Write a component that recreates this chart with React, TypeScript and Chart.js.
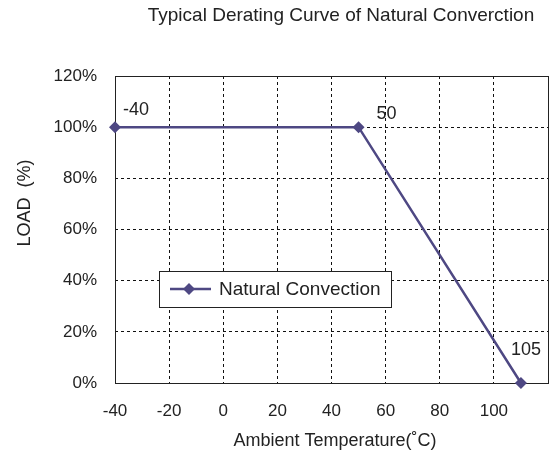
import React, { useEffect, useRef } from "react";
import { Chart, registerables } from "chart.js";

Chart.register(...registerables);

const temps = [-40, 50, 110];
const loads = [100, 100, 0];
const pointLabels = ["-40", "50", "105"];
const xTicks = [-40, -20, 0, 20, 40, 60, 80, 100, 120];
const yTicks = [0, 20, 40, 60, 80, 100, 120];
const seriesName = "Natural Convection";
const titleText = "Typical Derating Curve of Natural Converction";
const xTitle = "Ambient Temperature(\u02DAC)";
const yTitle = "LOAD  (%)";

const LINE = "#4E4883";
const FONT = "Liberation Sans, Arial, sans-serif";

function drawDiamond(ctx: CanvasRenderingContext2D, x: number, y: number, r: number) {
  ctx.beginPath();
  ctx.moveTo(x, y - r);
  ctx.lineTo(x + r, y);
  ctx.lineTo(x, y + r);
  ctx.lineTo(x - r, y);
  ctx.closePath();
  ctx.fill();
}

const overlay = {
  id: "overlay",
  beforeDatasetsDraw(chart: any) {
    const { ctx, chartArea: a } = chart;
    ctx.save();
    ctx.strokeStyle = "#222";
    ctx.lineWidth = 1;
    ctx.setLineDash([]);
    ctx.strokeRect(Math.round(a.left) + 0.5, Math.round(a.top) + 0.5, Math.round(a.right - a.left), Math.round(a.bottom - a.top));
    ctx.restore();
  },
  afterDatasetsDraw(chart: any) {
    const { ctx } = chart;
    const meta = chart.getDatasetMeta(0);
    const offs = [
      [21, -17],
      [28, -13],
      [5, -33],
    ];
    ctx.save();
    ctx.fillStyle = "#222";
    ctx.font = `18px ${FONT}`;
    ctx.textAlign = "center";
    ctx.textBaseline = "middle";
    meta.data.forEach((p: any, i: number) => {
      ctx.fillText(pointLabels[i], p.x + offs[i][0], p.y + offs[i][1]);
    });

    // legend box
    const lx = 159, ly = 271, lw = 232, lh = 36;
    ctx.fillStyle = "#fff";
    ctx.fillRect(lx, ly, lw, lh);
    ctx.strokeStyle = "#222";
    ctx.lineWidth = 1;
    ctx.strokeRect(lx + 0.5, ly + 0.5, lw, lh);
    const cy = ly + 18;
    ctx.strokeStyle = LINE;
    ctx.lineWidth = 2.5;
    ctx.beginPath();
    ctx.moveTo(170, cy);
    ctx.lineTo(211, cy);
    ctx.stroke();
    ctx.fillStyle = LINE;
    drawDiamond(ctx, 189, cy, 6);
    ctx.fillStyle = "#222";
    ctx.textAlign = "left";
    ctx.font = `19px ${FONT}`;
    ctx.fillText(seriesName, 219, cy + 1);

    // titles
    ctx.textAlign = "center";
    ctx.font = `19px ${FONT}`;
    ctx.fillText(titleText, 341, 16);
    ctx.font = `18px ${FONT}`;
    ctx.fillText(xTitle, 335, 441);
    ctx.save();
    ctx.translate(25, 203);
    ctx.rotate(-Math.PI / 2);
    ctx.fillText(yTitle, 0, 0);
    ctx.restore();
    ctx.restore();
  },
};

export default function App() {
  const ref = useRef<HTMLCanvasElement>(null);
  useEffect(() => {
    if (!ref.current) return;
    const chart = new Chart(ref.current, {
      type: "line",
      data: {
        datasets: [
          {
            label: seriesName,
            data: temps.map((t, i) => ({ x: t, y: loads[i] })),
            borderColor: LINE,
            backgroundColor: LINE,
            borderWidth: 2.5,
            pointStyle: "rectRot",
            pointRadius: 6,
            pointBackgroundColor: LINE,
            pointBorderColor: LINE,
            pointBorderWidth: 0,
            tension: 0,
            clip: false as any,
          },
        ],
      },
      options: {
        animation: false,
        responsive: true,
        maintainAspectRatio: false,
        layout: { padding: { left: 0, right: 5, top: 76, bottom: 0 } },
        plugins: {
          legend: { display: false },
          title: { display: false },
          tooltip: { enabled: false },
        },
        scales: {
          x: {
            type: "linear",
            min: -40,
            max: 120,
            afterBuildTicks: (s: any) => {
              s.ticks = xTicks.map((v) => ({ value: v }));
            },
            afterFit: (s: any) => {
              s.height = 72;
              s.paddingLeft = 0;
              s.paddingRight = 0;
            },
            ticks: {
              color: "#222",
              font: { family: FONT, size: 17 },
              padding: 18,
              maxRotation: 0,
              autoSkip: false,
              callback: (v: any) => (v === 120 ? "" : String(v)),
            },
            grid: {
              drawTicks: false,
              color: (c: any) => (c.tick && (c.tick.value === -40 || c.tick.value === 120) ? "rgba(0,0,0,0)" : "#111"),
              lineWidth: 1,
            },
            border: { display: false, dash: [3, 3] },
          },
          y: {
            type: "linear",
            min: 0,
            max: 120,
            afterBuildTicks: (s: any) => {
              s.ticks = yTicks.map((v) => ({ value: v }));
            },
            afterFit: (s: any) => {
              s.width = 115;
              s.paddingTop = 0;
              s.paddingBottom = 0;
            },
            ticks: {
              color: "#222",
              font: { family: FONT, size: 17 },
              padding: 18,
              callback: (v: any) => `${v}%`,
            },
            grid: {
              drawTicks: false,
              color: (c: any) => (c.tick && (c.tick.value === 0 || c.tick.value === 120) ? "rgba(0,0,0,0)" : "#111"),
              lineWidth: 1,
            },
            border: { display: false, dash: [3, 3] },
          },
        },
      },
      plugins: [overlay],
    });
    return () => chart.destroy();
  }, []);
  return (
    <div style={{ position: "fixed", left: 0, top: 0, width: 554, height: 455, background: "#fff" }}>
      <canvas ref={ref} />
    </div>
  );
}
